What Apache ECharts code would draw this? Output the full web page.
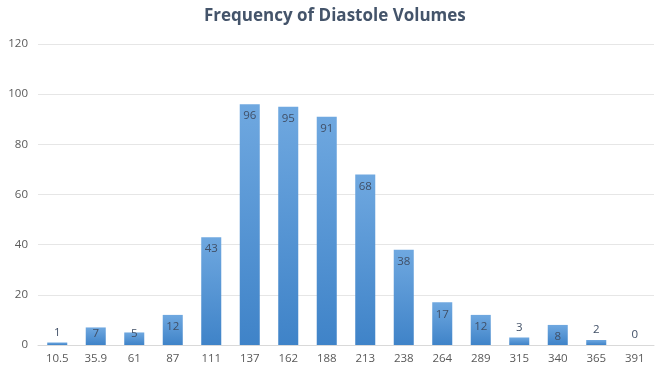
<!DOCTYPE html>
<html>
<head>
<meta charset="UTF-8">
<title>Frequency of Diastole Volumes</title>
<script src="https://cdn.jsdelivr.net/npm/echarts@6/dist/echarts.min.js"></script>
<style>
  html, body { margin: 0; padding: 0; background: #fff; }
  #main { width: 657px; height: 378px; }
</style>
</head>
<body>
<div id="main"></div>
<script>
var binLabels = ['10.5', '35.9', '61', '87', '111', '137', '162', '188', '213', '238', '264', '289', '315', '340', '365', '391'];
var frequency = [1, 7, 5, 12, 43, 96, 95, 91, 68, 38, 17, 12, 3, 8, 2, 0];
var yTicks = [0, 20, 40, 60, 80, 100, 120];

var myChart = echarts.init(document.getElementById('main'));

// tiny bars: label above; short bars: label hugs the top; others inside the top
var barData = frequency.map(function (v) {
  var lbl;
  if (v < 5) lbl = { position: 'top', distance: 4 };
  else if (v < 8) lbl = { position: 'insideTop', distance: v === 5 ? -5 : 0 };
  else lbl = { position: 'insideTop', distance: 6 };
  return { value: v, label: lbl };
});

var option = {
  animation: false,
  title: {
    text: 'Frequency of Diastole Volumes',
    left: 199,
    top: 3,
    textStyle: { fontFamily: 'Open Sans', fontSize: 17, fontWeight: 'bold', color: '#44546a' }
  },
  grid: { left: 38, right: 3, top: 44, bottom: 33 },
  xAxis: {
    type: 'category',
    data: binLabels,
    axisLine: { lineStyle: { color: '#d9d9d9' } },
    axisTick: { show: false },
    axisLabel: { color: '#595959', fontSize: 11.5, fontFamily: 'Open Sans', margin: 8 }
  },
  yAxis: {
    type: 'value',
    min: yTicks[0],
    max: yTicks[yTicks.length - 1],
    interval: 20,
    axisLine: { show: false },
    axisTick: { show: false },
    splitLine: { lineStyle: { color: '#e6e6e6' } },
    axisLabel: { color: '#595959', fontSize: 11.5, fontFamily: 'Open Sans', margin: 10 }
  },
  series: [{
    type: 'bar',
    data: barData,
    barCategoryGap: '48%',
    itemStyle: {
      color: {
        type: 'linear', x: 0, y: 0, x2: 0, y2: 1,
        colorStops: [
          { offset: 0, color: '#6fa8e0' },
          { offset: 1, color: '#3f83c8' }
        ]
      }
    },
    label: {
      show: true,
      color: '#404f66',
      fontSize: 11.5,
      fontFamily: 'Open Sans'
    }
  }]
};

myChart.setOption(option);
</script>
</body>
</html>
